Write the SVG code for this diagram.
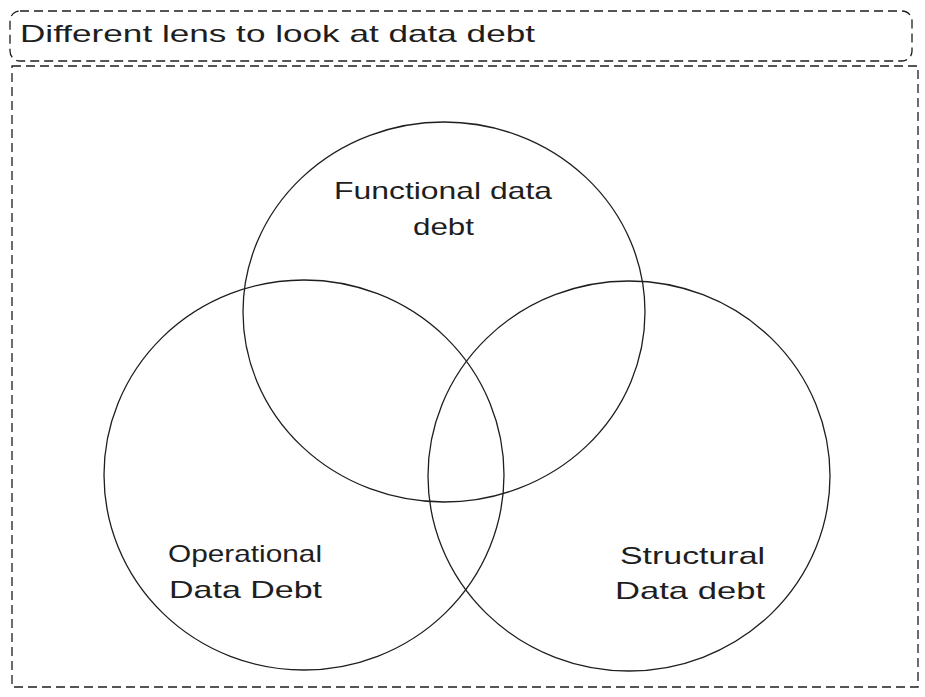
<svg xmlns="http://www.w3.org/2000/svg" width="925" height="697" viewBox="0 0 925 697">
<style>
.frame{fill:none;stroke:#1e1e1e;stroke-width:1.3;stroke-dasharray:9 5}
.circ{fill:none;stroke:#1e1e1e;stroke-width:1.3}
.lbl{font-family:"Liberation Sans",Arial,sans-serif;font-size:24px;fill:#1e1e1e}
.mid{text-anchor:middle}
</style>
<rect width="925" height="697" fill="#ffffff"/>
<g id="title-box">
<rect class="frame" x="10" y="11" width="902" height="50" rx="10"/>
<text class="lbl" x="20" y="42" textLength="515" lengthAdjust="spacingAndGlyphs">Different lens to look at data debt</text>
</g>
<g id="container">
<rect class="frame" x="12" y="66" width="906" height="621"/>
</g>
<g id="functional">
<ellipse class="circ" cx="444" cy="312" rx="201" ry="190"/>
<text class="lbl" x="334" y="199" textLength="218" lengthAdjust="spacingAndGlyphs">Functional data</text>
<text class="lbl" x="413" y="235" textLength="61" lengthAdjust="spacingAndGlyphs">debt</text>
</g>
<g id="operational">
<ellipse class="circ" cx="304" cy="475" rx="200" ry="195"/>
<text class="lbl" x="168" y="562" textLength="154" lengthAdjust="spacingAndGlyphs">Operational</text>
<text class="lbl" x="169" y="598" textLength="153" lengthAdjust="spacingAndGlyphs">Data Debt</text>
</g>
<g id="structural">
<ellipse class="circ" cx="629" cy="476" rx="201" ry="195"/>
<text class="lbl" x="620" y="564" textLength="145" lengthAdjust="spacingAndGlyphs">Structural</text>
<text class="lbl" x="615" y="599" textLength="150" lengthAdjust="spacingAndGlyphs">Data debt</text>
</g>
<g id="connectors"></g>
</svg>
